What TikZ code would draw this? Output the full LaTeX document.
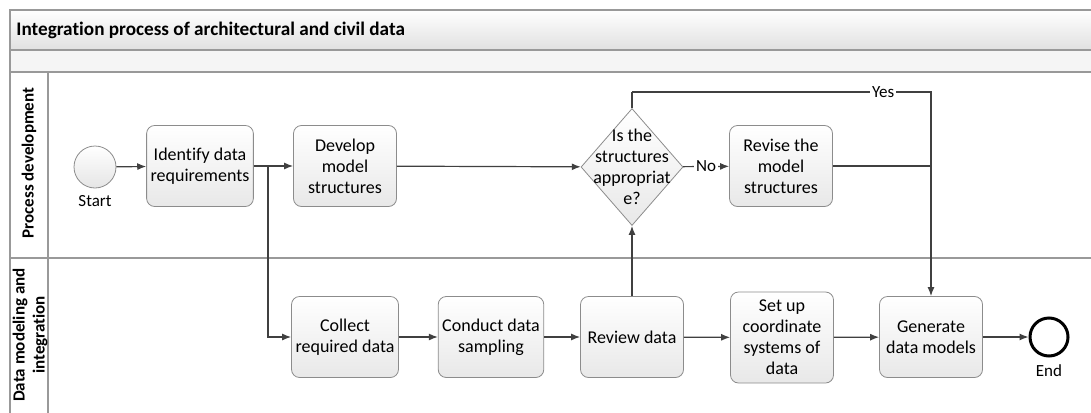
\documentclass[tikz,border=0pt]{standalone}
\usepackage{fontspec}
\setmainfont[Ligatures=NoCommon]{Carlito}
\usetikzlibrary{shapes.geometric,arrows.meta}

\tikzset{
  task/.style  = {draw=black!45, rounded corners=4pt, top color=white, bottom color=black!9,
                  minimum width=51.5pt, minimum height=40.5pt, align=center, inner sep=2pt,
                  font=\fontsize{9}{10.5}\selectfont},
  decide/.style= {draw=black!45, diamond, top color=white, bottom color=black!9,
                  minimum width=51pt, minimum height=58.5pt, inner sep=0pt},
  lanetxt/.style={rotate=90, align=center, font=\bfseries\fontsize{8.5}{10}\selectfont},
  flow/.style  = {draw=black!75, line width=0.6pt, -{Latex[length=4.5pt,width=3.5pt]}},
  wire/.style  = {draw=black!75, line width=0.6pt},
  small/.style = {font=\fontsize{8.5}{10}\selectfont}
}

\begin{document}
\begin{tikzpicture}[x=0.5pt, y=-0.5pt]
 \useasboundingbox (0,0) rectangle (1091,412);
 \clip (0,0) rectangle (1091,412);

 % pool and lanes
 \shade[top color=white, bottom color=black!12] (10,10) rectangle (1095,50);
 \fill[black!4] (10,50) rectangle (1095,72);
 \draw[black!40, line width=0.7pt] (10,416) -- (10,10) -- (1095,10);
 \draw[black!40, line width=0.7pt] (10,50) -- (1095,50);
 \draw[black!40, line width=0.7pt] (10,72) -- (1095,72);
 \draw[black!40, line width=0.7pt] (10,258) -- (1095,258);
 \draw[black!40, line width=0.7pt] (48,72) -- (48,416);
 \node[anchor=west, inner sep=1pt, font=\bfseries\fontsize{9.6}{11}\selectfont, name=title] at (14,30) {Integration process of architectural and civil data};
 \node[lanetxt, name=laneA] at (29,163) {Process development};
 \node[lanetxt, name=laneB] at (30,335) {Data modeling and\\integration};

 % lane 1
 \node[circle, draw=black!45, top color=white, bottom color=black!10, minimum size=21pt, inner sep=0pt,
       name=Start, label={[small, label distance=0pt]below:Start}] at (95,167) {};
 \node[task,   name=Ident] at (200,166) {Identify data\\requirements};
 \node[task,   name=Devel] at (345,166) {Develop\\model\\structures};
 \node[decide, name=Chk  ] at (632,167) {};
 \node[align=center, font=\fontsize{9}{10.5}\selectfont, name=ChkTxt] at (632,167) {Is the\\structures\\appropriat\\e?};
 \node[task,   name=Rev  ] at (781,166) {Revise the\\model\\structures};

 % lane 2
 \node[task, name=Coll ] at (345,337) {Collect\\required data};
 \node[task, name=Samp ] at (491,337) {Conduct data\\sampling};
 \node[task, name=Check] at (632,337) {Review data};
 \node[task, name=Coord, minimum height=45.5pt] at (782,337.5) {Set up\\coordinate\\systems of\\data};
 \node[task, name=Gen  ] at (931,337) {Generate\\data models};
 \node[circle, draw=black, line width=1.5pt, fill=white, minimum size=19pt, inner sep=0pt,
       name=End, label={[small, label distance=0pt]below:End}] at (1049,337) {};

 \coordinate (split) at (268,166);
 \coordinate (yes)   at (632,92);

 \draw[flow] (Start) -- (Ident);
 \draw[flow] (Ident) -- (Devel);
 \draw[flow] (split) |- (Coll);
 \draw[flow] (Devel) -- (Chk);
 \draw[flow] (Chk)   -- (Rev) node[midway, fill=white, inner sep=1pt, small] {No};
 \draw[wire] (Chk.north) -- (yes);
 \draw[flow] (yes) -| (Gen.north) node[pos=0.42, fill=white, inner sep=1pt, small] {Yes};
 \draw[wire] (Rev.east) -- (Rev.east -| Gen.north);
 \draw[flow] (Check) -- (Chk.south);
 \draw[flow] (Coll)  -- (Samp);
 \draw[flow] (Samp)  -- (Check);
 \draw[flow] (Check) -- (Coord);
 \draw[flow] (Coord) -- (Gen);
 \draw[flow] (Gen)   -- (End);
\end{tikzpicture}
\end{document}
